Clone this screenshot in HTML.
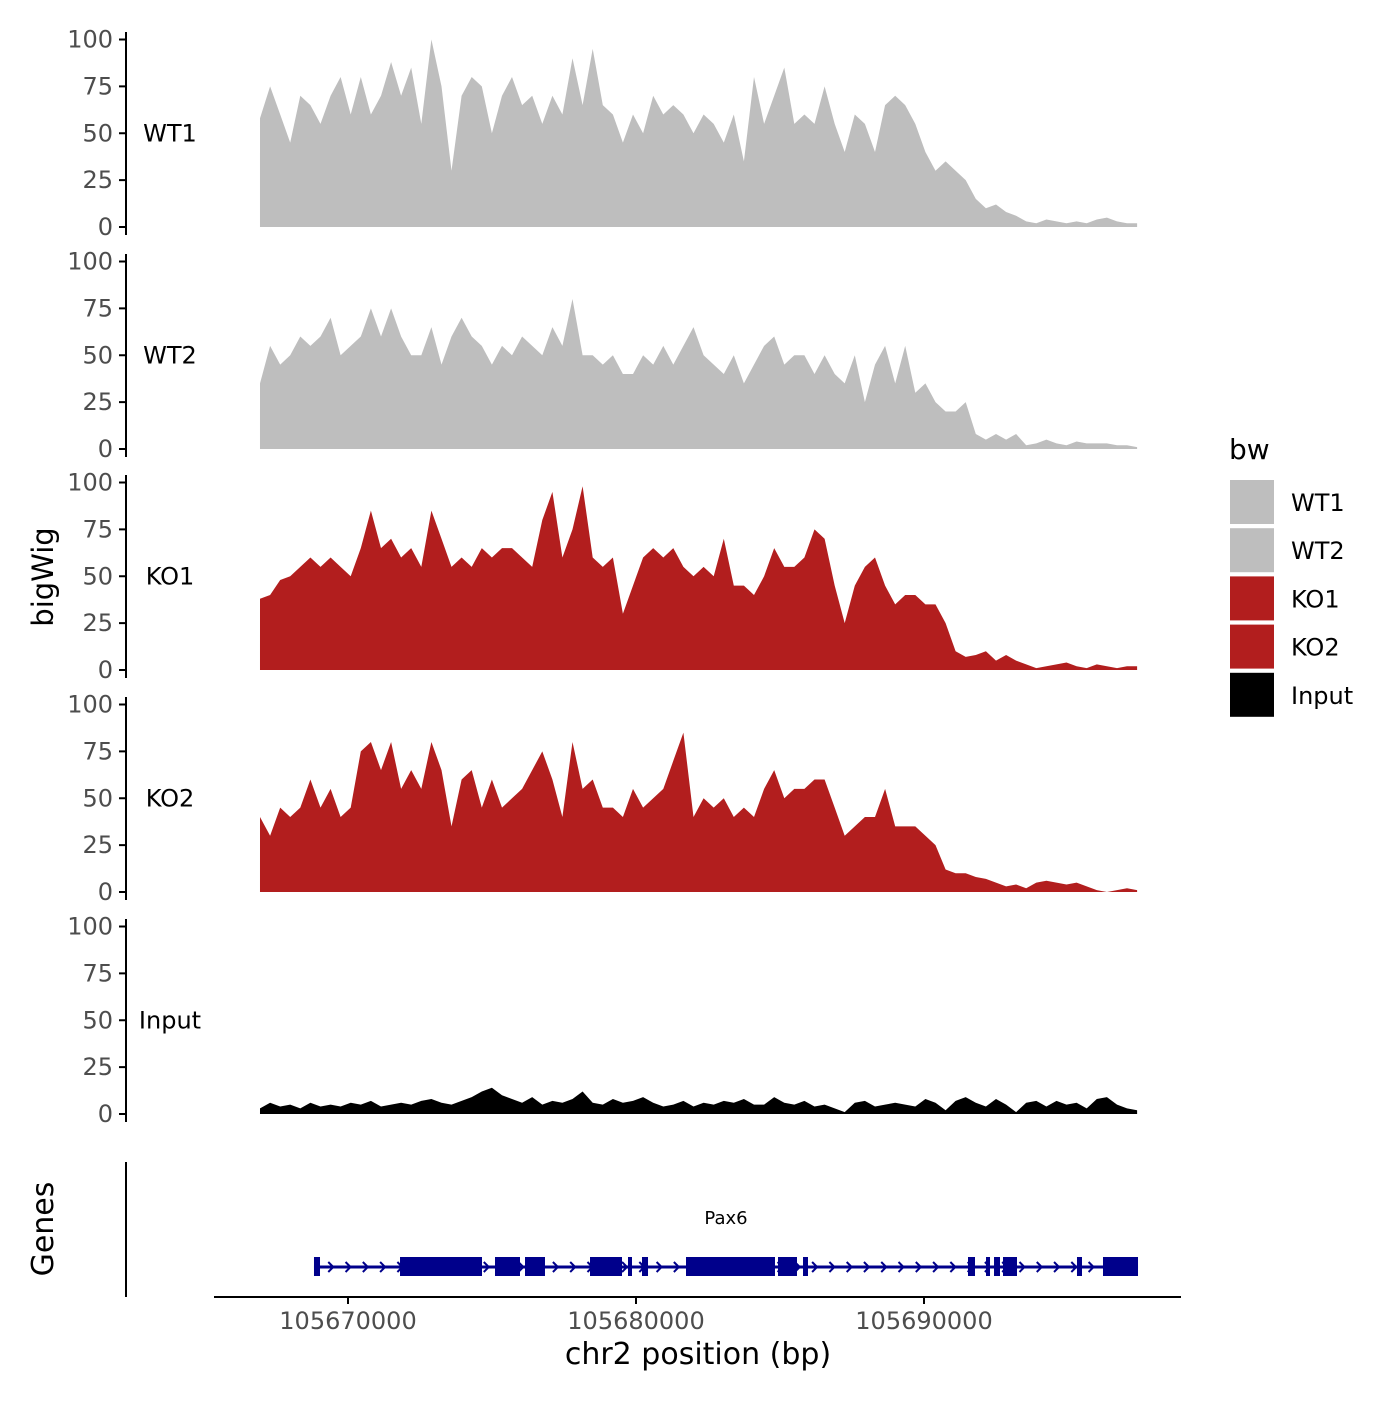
<!DOCTYPE html>
<html><head><meta charset="utf-8"><style>
html,body{margin:0;padding:0;background:#fff;}
svg text{font-family:"DejaVu Sans","Liberation Sans",sans-serif;}
</style></head><body>
<svg id="chart" width="1400" height="1400" viewBox="0 0 1400 1400" xmlns="http://www.w3.org/2000/svg"></svg>
<script>
const startBp = 105666944, endBp = 105697400;
const trackNames = ["WT1","WT2","KO1","KO2","Input"];
const trackColors = ["#bebebe","#bebebe","#b21e1e","#b21e1e","#000000"];
const yTicks = [0,25,50,75,100];
const xTicks = [105670000,105680000,105690000];
const wt1 = [58,75,60,45,70,65,55,70,80,60,80,60,70,88,70,85,55,100,75,30,70,80,75,50,70,80,65,70,55,70,60,90,65,95,65,60,45,60,50,70,60,65,60,50,60,55,45,60,35,80,55,70,85,55,60,55,75,55,40,60,55,40,65,70,65,55,40,30,35,30,25,15,10,12,8,6,3,2,4,3,2,3,2,4,5,3,2,2];
const wt2 = [35,55,45,50,60,55,60,70,50,55,60,75,60,75,60,50,50,65,45,60,70,60,55,45,55,50,60,55,50,65,55,80,50,50,45,50,40,40,50,45,55,45,55,65,50,45,40,50,35,45,55,60,45,50,50,40,50,40,35,50,25,45,55,35,55,30,35,25,20,20,25,8,5,8,5,8,2,3,5,3,2,4,3,3,3,2,2,1];
const ko1 = [38,40,48,50,55,60,55,60,55,50,65,85,65,70,60,65,55,85,70,55,60,55,65,60,65,65,60,55,80,95,60,75,98,60,55,60,30,45,60,65,60,65,55,50,55,50,70,45,45,40,50,65,55,55,60,75,70,45,25,45,55,60,45,35,40,40,35,35,25,10,7,8,10,5,8,5,3,1,2,3,4,2,1,3,2,1,2,2];
const ko2 = [40,30,45,40,45,60,45,55,40,45,75,80,65,80,55,65,55,80,65,35,60,65,45,60,45,50,55,65,75,60,40,80,55,60,45,45,40,55,45,50,55,70,85,40,50,45,50,40,45,40,55,65,50,55,55,60,60,45,30,35,40,40,55,35,35,35,30,25,12,10,10,8,7,5,3,4,2,5,6,5,4,5,3,1,0,1,2,1];
const input = [3,6,4,5,3,6,4,5,4,6,5,7,4,5,6,5,7,8,6,5,7,9,12,14,10,8,6,9,5,7,6,8,12,6,5,8,6,7,9,6,4,5,7,4,6,5,7,6,8,5,5,9,6,5,7,4,5,3,1,6,7,4,5,6,5,4,8,6,2,7,9,6,4,8,5,1,6,7,4,7,5,6,3,8,9,5,3,2];
const tracks = [wt1,wt2,ko1,ko2,input];
const exonStarts = [105668819,105671806,105675104,105676146,105678403,105679722,105680208,105681736,105684931,105685799,105691528,105692153,105692431,105692743,105695312,105696215];
const exonEnds   = [105669028,105674653,105675972,105676840,105679514,105679861,105680417,105684826,105685590,105685972,105691771,105692292,105692639,105693229,105695486,105697431];
const geneStart = 105668819, geneEnd = 105697431;

const svg = document.getElementById('chart');
const NS = 'http://www.w3.org/2000/svg';
function el(tag, attrs, parent){const e=document.createElementNS(NS,tag);for(const k in attrs)e.setAttribute(k,attrs[k]);(parent||svg).appendChild(e);return e;}
function xs(bp){return 348 + (bp-105670000)/1000*28.8;}
const zeroY = [227,449,670,892,1114];
function ys(i,v){return zeroY[i] - v*1.875;}

tracks.forEach((vals,i)=>{
  const g = el('g',{});
  
  
  const ax = el('line',{x1:126,x2:126,y1:zeroY[i]-195,y2:zeroY[i]+8,stroke:'#000','stroke-width':2},g);
  
  
  yTicks.forEach(t=>{
    el('line',{x1:119,x2:126,y1:ys(i,t),y2:ys(i,t),stroke:'#000','stroke-width':2},g);
    const tx = el('text',{x:113,y:ys(i,t)+8,'text-anchor':'end','font-size':24,fill:'#4d4d4d'},g);
    tx.textContent = t;
    
    
  });
  const lb = el('text',{x:170,y:ys(i,50)+8,'text-anchor':'middle','font-size':24,fill:'#000'},g);
  lb.textContent = trackNames[i];
  
  
  const n = vals.length;
  let d = 'M'+xs(startBp)+','+zeroY[i];
  vals.forEach((v,k)=>{const bp = startBp + k*(endBp-startBp)/(n-1); d+=' L'+xs(bp).toFixed(1)+','+ys(i,v).toFixed(1);});
  d += ' L'+xs(endBp)+','+zeroY[i]+' Z';
  const area = el('path',{d:d,fill:trackColors[i]},g);
  
  
});

const yt = el('text',{x:0,y:0,'font-size':29,'text-anchor':'middle',transform:'translate(53,577) rotate(-90)'});
yt.textContent='bigWig';



const ga = el('line',{x1:126,x2:126,y1:1162,y2:1297,stroke:'#000','stroke-width':2});


const gt = el('text',{x:0,y:0,'font-size':30,'text-anchor':'middle',transform:'translate(53,1229) rotate(-90)'});
gt.textContent='Genes';


const gl = el('line',{x1:xs(geneStart),x2:xs(geneEnd),y1:1267,y2:1267,stroke:'#00008b','stroke-width':3});


for(let bp=geneStart+600; bp<geneEnd; bp+=600){
  const x=xs(bp);
  const a=el('path',{d:`M${x-3},${1262} L${x+2},${1267} L${x-3},${1272}`,fill:'none',stroke:'#00008b','stroke-width':2});
  
  
}
exonStarts.forEach((s,k)=>{
  const r = el('rect',{x:xs(s),y:1257,width:Math.max(3,xs(exonEnds[k])-xs(s)),height:19,fill:'#00008b'});
  
  
});
const pl = el('text',{x:726,y:1224,'font-size':18,'text-anchor':'middle'});
pl.textContent='Pax6';



const xa = el('line',{x1:214,x2:1181,y1:1297,y2:1297,stroke:'#000','stroke-width':2});


xTicks.forEach(t=>{
  el('line',{x1:xs(t),x2:xs(t),y1:1297,y2:1304,stroke:'#000','stroke-width':2});
  const tx = el('text',{x:xs(t),y:1329,'text-anchor':'middle','font-size':24,fill:'#4d4d4d'});
  tx.textContent=t;
  
  
});
const xt = el('text',{x:698,y:1364,'text-anchor':'middle','font-size':30});
xt.textContent='chr2 position (bp)';



const lt = el('text',{x:1229,y:459,'font-size':28});
lt.textContent='bw';


trackNames.forEach((nm,i)=>{
  const y = 480 + i*48.2;
  const r = el('rect',{x:1230,y:y,width:44,height:44,fill:trackColors[i]});
  
  
  const t = el('text',{x:1291,y:y+31,'font-size':24});
  t.textContent = nm;
  
  
});
</script>
</body></html>
